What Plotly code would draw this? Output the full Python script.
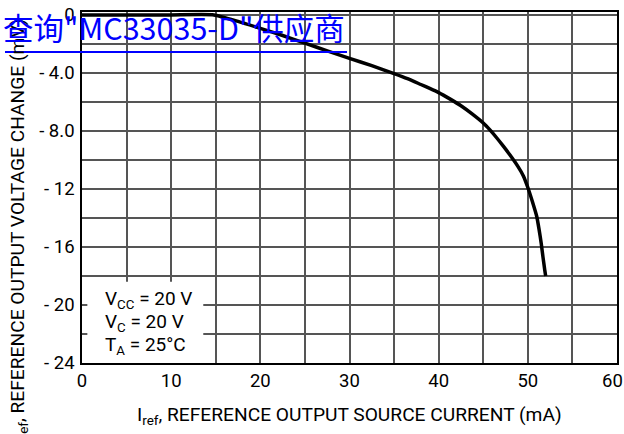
import plotly.graph_objects as go

# Data
current_ma = [0, 5, 10, 14.8, 17.5, 20, 22.5, 25, 27.5, 30, 32.5, 35, 36.5, 38, 39, 40, 41.25, 42.5, 43.75, 45, 45.75,
              46.5, 47.25, 48, 48.9, 49.5, 50, 50.5, 51, 51.25, 51.5, 51.7, 51.9, 52.0]
delta_v_mv = [0, 0, 0, 0, -0.45, -0.93, -1.42, -1.95, -2.48, -3.0, -3.5, -4.05, -4.4, -4.8, -5.07, -5.36, -5.79, -6.26,
              -6.82, -7.45, -7.93, -8.47, -9.05, -9.66, -10.46, -11.1, -11.9, -12.85, -13.9, -14.75, -15.75, -16.7,
              -17.6, -18.0]

y_tickvals = [0, -4, -8, -12, -16, -20, -24]
y_ticktext = ["0", "- 4.0", "- 8.0", "- 12", "- 16", "- 20", "- 24"]
x_tickvals = [0, 10, 20, 30, 40, 50, 60]
x_ticktext = ["0", "10", "20", "30", "40", "50", "60\u00a0\u00a0"]

FONT = "Roboto, Liberation Sans, sans-serif"
FS = 18.5
TS = 19.2

fig = go.Figure()
fig.add_trace(go.Scatter(x=current_ma, y=delta_v_mv, mode="lines",
                         line=dict(color="black", width=3.5, shape="spline", smoothing=0.5),
                         showlegend=False))

fig.update_layout(
    width=624, height=434,
    margin=dict(l=82, r=7, t=12, b=71, autoexpand=False),
    paper_bgcolor="white", plot_bgcolor="white",
    font=dict(family=FONT, size=FS, color="black"),
    xaxis=dict(range=[0, 60], tickvals=x_tickvals, ticktext=x_ticktext,
               showgrid=True, gridcolor="#555", gridwidth=1.5,
               minor=dict(dtick=5, tick0=0, showgrid=True, gridcolor="#555", gridwidth=1.5),
               showline=True, linecolor="black", linewidth=1.5, mirror=True,
               ticks="", zeroline=False, tickfont=dict(size=FS), automargin=False,
               ticklabeloverflow="allow"),
    yaxis=dict(range=[-24, 0.2], tickvals=y_tickvals, ticktext=y_ticktext,
               showgrid=True, gridcolor="#555", gridwidth=1.5,
               minor=dict(dtick=2, tick0=0, showgrid=True, gridcolor="#555", gridwidth=1.5),
               showline=True, linecolor="black", linewidth=1.5, mirror=True,
               ticks="", zeroline=False, tickfont=dict(size=FS), ticklabelstandoff=2,
               automargin=False, ticklabeloverflow="allow"),
)

# Condition box (white, covers grid)
fig.add_shape(type="rect", xref="x", yref="y", x0=0.6, x1=13.6, y0=-24, y1=-18.4,
              fillcolor="white", line=dict(width=0), layer="above")
fig.add_annotation(xref="x", yref="y", x=2.4, y=-19.6, xanchor="left", yanchor="middle",
                   text="V<sub>CC</sub> = 20 V", showarrow=False, font=dict(size=19))
fig.add_annotation(xref="x", yref="y", x=2.4, y=-21.2, xanchor="left", yanchor="middle",
                   text="V<sub>C</sub> = 20 V", showarrow=False, font=dict(size=19))
fig.add_annotation(xref="x", yref="y", x=2.4, y=-22.8, xanchor="left", yanchor="middle",
                   text="T<sub>A</sub> = 25°C", showarrow=False, font=dict(size=19))

# Axis titles
fig.add_annotation(xref="paper", yref="paper", x=(349 - 82) / 535, y=(363 - 415) / 351,
                   xanchor="center", yanchor="middle", showarrow=False,
                   text="I<sub>ref</sub>, REFERENCE OUTPUT SOURCE CURRENT (mA)", font=dict(size=TS))
fig.add_annotation(xref="paper", yref="paper", x=(18 - 82) / 535, y=(363 - 242) / 351,
                   xanchor="center", yanchor="middle", showarrow=False, textangle=-90,
                   text="ΔV<sub>ref</sub>, REFERENCE OUTPUT VOLTAGE CHANGE (mV)", font=dict(size=TS))

# Watermark link text
fig.add_annotation(xref="paper", yref="paper", x=(1 - 82) / 535, y=(363 - 27) / 351,
                   xanchor="left", yanchor="middle", showarrow=False,
                   text="查询\"MC33035-D\"供应商",
                   font=dict(family="Noto Sans CJK SC, sans-serif", size=30.5, color="#0000ff"))
fig.add_shape(type="line", xref="paper", yref="paper",
              x0=(5 - 82) / 535, x1=(347 - 82) / 535, y0=(363 - 52) / 351, y1=(363 - 52) / 351,
              line=dict(color="#0000ff", width=2), layer="above")

fig.write_html("out.html", config={"displayModeBar": False},
               post_script="document.body.style.margin='0';")
